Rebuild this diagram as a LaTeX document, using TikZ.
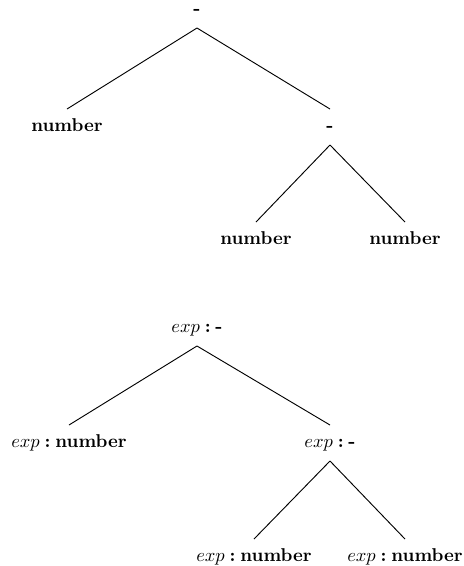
\documentclass[tikz,border=0pt]{standalone}
\newcommand{\tsep}{\hspace{2.6pt}}
\begin{document}
\begin{tikzpicture}[x=0.539pt, y=-0.539pt,
  lbl/.style={inner xsep=0pt, inner ysep=5pt, text height=7pt, text depth=2pt},
  edge/.style={draw=black, line width=0.5pt}]
\useasboundingbox (0,0) rectangle (463,566);
% syntax tree
\node[lbl] (t0)  at (197,10)  {\textbf{-}};
\node[lbl] (t1)  at (67,127)  {\textbf{number}};
\node[lbl] (t2)  at (330,127) {\textbf{-}};
\node[lbl] (t21) at (256,240) {\textbf{number}};
\node[lbl] (t22) at (405,240) {\textbf{number}};
\draw[edge] (t0.south) -- (t1.north);
\draw[edge] (t0.south) -- (t2.north);
\draw[edge] (t2.south) -- (t21.north);
\draw[edge] (t2.south) -- (t22.north);
% annotated tree
\node[lbl] (a0)  at (197,328) {$exp$\tsep\textbf{:}\tsep\textbf{-}};
\node[lbl] (a1)  at (69,443)  {$exp$\tsep\textbf{:}\tsep\textbf{number}};
\node[lbl] (a2)  at (330,443) {$exp$\tsep\textbf{:}\tsep\textbf{-}};
\node[lbl] (a21) at (254,557) {$exp$\tsep\textbf{:}\tsep\textbf{number}};
\node[lbl] (a22) at (405,557) {$exp$\tsep\textbf{:}\tsep\textbf{number}};
\draw[edge] (a0.south) -- (a1.north);
\draw[edge] (a0.south) -- (a2.north);
\draw[edge] (a2.south) -- (a21.north);
\draw[edge] (a2.south) -- (a22.north);
\end{tikzpicture}
\end{document}
